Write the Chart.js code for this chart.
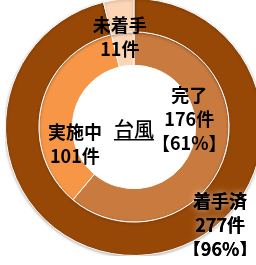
<!DOCTYPE html>
<html>
<head>
<meta charset="utf-8">
<script src="https://cdn.jsdelivr.net/npm/chart.js@4.4.0/dist/chart.umd.min.js"></script>
<style>
    html, body { margin: 0; padding: 0; background: #fff; }
    body { width: 256px; height: 265px; overflow: hidden; position: relative; }
    #ringChart { position: absolute; left: 5px; top: -2px; }
</style>
</head>
<body>
<canvas id="ringChart" width="258" height="258"></canvas>
<script>
// Progress data (outer = started / not started, inner = done / in progress / not started)
const outerLabels = ['着手済', '未着手'];
const outerValues = [277, 11];
const innerLabels = ['完了', '実施中', '未着手'];
const innerValues = [176, 101, 11];
const centerTitle = '台風';

const outerColors = ['#974807', '#FBD5B5'];
const innerColors = ['#C97A3E', '#F79646', '#FBD5B5'];

const total = outerValues.reduce((a, b) => a + b, 0);
const pct = v => '【' + Math.round(v / total * 100) + '%】';

// Label blocks, placed relative to chart center in units of the outer radius
const labelBlocks = [
    { lines: [outerLabels[1], outerValues[1] + '件'], fx: -0.11, fy: -0.70, glow: false },
    { lines: [innerLabels[0], innerValues[0] + '件', pct(innerValues[0])], fx: 0.43, fy: -0.06, glow: false },
    { lines: [innerLabels[1], innerValues[1] + '件'], fx: -0.46, fy: 0.13, glow: false },
    { lines: [outerLabels[0], outerValues[0] + '件', pct(outerValues[0])], fx: 0.67, fy: 0.76, glow: true }
];

// Outer ring soft shadow
const ringShadow = {
    id: 'ringShadow',
    beforeDatasetDraw(chart, args) {
        if (args.index !== 0) return;
        const ctx = chart.ctx;
        ctx.save();
        ctx.shadowColor = 'rgba(0, 0, 0, 0.3)';
        ctx.shadowBlur = 3;
        ctx.shadowOffsetY = 1;
    },
    afterDatasetDraw(chart, args) {
        if (args.index !== 0) return;
        chart.ctx.restore();
    }
};

// Text labels and center title
const ringLabels = {
    id: 'ringLabels',
    afterDraw(chart) {
        const ctx = chart.ctx;
        const arc = chart.getDatasetMeta(0).data[0];
        const cx = arc.x, cy = arc.y, r = arc.outerRadius;
        const lineH = 24;

        ctx.save();
        ctx.textAlign = 'center';
        ctx.textBaseline = 'middle';
        ctx.fillStyle = '#000';
        ctx.font = 'bold 18px "Noto Sans CJK JP", sans-serif';

        labelBlocks.forEach(block => {
            const x = cx + block.fx * r;
            const y0 = cy + block.fy * r - (block.lines.length - 1) * lineH / 2;
            block.lines.forEach((line, i) => {
                const y = y0 + i * lineH;
                if (block.glow) {
                    ctx.save();
                    ctx.shadowColor = 'rgba(255, 255, 255, 0.7)';
                    ctx.shadowBlur = 7;
                    ctx.fillText(line, x, y);
                    ctx.restore();
                }
                ctx.fillText(line, x, y);
            });
        });

        // center title, underlined
        ctx.font = '500 20px "Noto Sans CJK JP", sans-serif';
        const ty = cy + 2;
        ctx.fillText(centerTitle, cx, ty);
        const w = ctx.measureText(centerTitle).width;
        ctx.fillRect(cx - w / 2, ty + 10, w, 1.5);
        ctx.restore();
    }
};

new Chart(document.getElementById('ringChart'), {
    type: 'doughnut',
    data: {
        labels: innerLabels,
        datasets: [{
            data: outerValues,
            backgroundColor: outerColors,
            borderColor: '#fff',
            borderWidth: 1
        }, {
            data: innerValues,
            backgroundColor: innerColors,
            borderColor: '#fff',
            borderWidth: 1
        }]
    },
    options: {
        responsive: false,
        maintainAspectRatio: false,
        animation: false,
        cutout: '48%',
        layout: { padding: 0 },
        plugins: {
            legend: { display: false },
            tooltip: { enabled: false }
        }
    },
    plugins: [ringShadow, ringLabels]
});
</script>
</body>
</html>
